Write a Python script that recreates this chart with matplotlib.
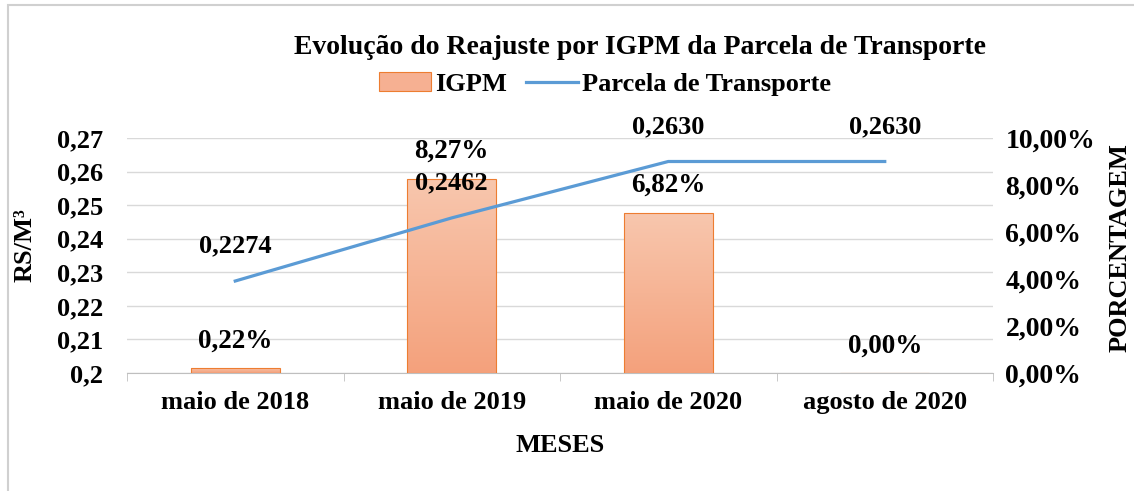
import numpy as np
import matplotlib
matplotlib.use('Agg')
import matplotlib.pyplot as plt
from matplotlib.ticker import FuncFormatter, FixedLocator
from matplotlib.colors import LinearSegmentedColormap
from matplotlib.patches import Rectangle
from matplotlib.lines import Line2D

# ========== Data ==========
meses = ['maio de 2018', 'maio de 2019', 'maio de 2020', 'agosto de 2020']
igpm = [0.0022, 0.0827, 0.0682, 0.0]          # IGPM (%)
parcela = [0.2274, 0.2462, 0.2630, 0.2630]    # Parcela de Transporte (R$/m3)

plt.rcParams['font.family'] = ['Liberation Serif', 'DejaVu Serif']
plt.rcParams['font.weight'] = 'bold'

BLUE = '#5B9BD5'
EDGE = '#ED7D31'
GRID = '#D9D9D9'
FS = 19

fig = plt.figure(figsize=(11.34, 4.91), dpi=100)
ax = fig.add_axes([127 / 1134, 1 - 373 / 491, (993 - 127) / 1134, (373 - 138) / 491])
ax2 = ax.twinx()

x = np.arange(len(meses))

# outer chart border
fig.patches.append(Rectangle((8 / 1134, -0.1), 1.2, 1 - 5 / 491 + 0.1, transform=fig.transFigure,
                             fill=False, edgecolor='#D0D0D0', lw=1.5, zorder=0))

# ---- primary axis (R$/m3) ----
ax.set_ylim(0.2, 0.27)
ax.set_xlim(-0.5, len(meses) - 0.5)
ax.yaxis.set_major_locator(FixedLocator(np.arange(0.20, 0.2701, 0.01)))
ax.yaxis.set_major_formatter(FuncFormatter(
    lambda v, p: f"{v:.2f}".rstrip('0').replace('.', ',')))
ax.grid(axis='y', color=GRID, lw=1)
ax.set_axisbelow(True)
for s in ['top', 'left', 'right']:
    ax.spines[s].set_visible(False)
ax.spines['bottom'].set_color('#BFBFBF')
ax.tick_params(axis='y', length=0, pad=17, labelsize=FS)
ax.set_xticks(x)
ax.set_xticklabels(meses, fontsize=FS)
ax.set_xticks(np.arange(-0.5, len(meses), 1), minor=True)
ax.tick_params(axis='x', which='major', length=0, pad=13)
ax.tick_params(axis='x', which='minor', length=6, color='#BFBFBF', direction='out')

# ---- secondary axis (%) ----
bars = ax2.bar(x, igpm, width=0.41, color='none', edgecolor=EDGE, lw=0.8, zorder=3)
cmap = LinearSegmentedColormap.from_list('peach', ['#F4A17C', '#F8C7AE'])
grad = np.linspace(0, 1, 256).reshape(-1, 1)
for b in bars:
    x0, y0, w, h = b.get_x(), b.get_y(), b.get_width(), b.get_height()
    if h <= 0:
        continue
    im = ax2.imshow(grad, extent=[x0, x0 + w, y0, y0 + h], origin='lower',
                    cmap=cmap, aspect='auto', zorder=2)
    im.set_clip_path(b)

ax2.plot(x, parcela, color=BLUE, lw=2.3, transform=ax.transData, zorder=4)
ax2.set_ylim(0, 0.10)
ax2.set_xlim(-0.5, len(meses) - 0.5)
ax2.yaxis.set_major_locator(FixedLocator(np.arange(0, 0.1001, 0.02)))
ax2.yaxis.set_major_formatter(FuncFormatter(
    lambda v, p: f"{v * 100:.2f}%".replace('.', ',')))
ax2.tick_params(axis='y', length=0, pad=9, labelsize=20)
for s in ['top', 'left', 'right', 'bottom']:
    ax2.spines[s].set_visible(False)

# data labels
for i, v in enumerate(parcela):
    ax2.annotate(f"{v:.4f}".replace('.', ','), xy=(i, v), xycoords=ax.transData,
                 xytext=(0, 25), textcoords='offset points', ha='center', va='center',
                 fontsize=FS, zorder=5)
for i, v in enumerate(igpm):
    ax2.annotate(f"{v * 100:.2f}%".replace('.', ','), xy=(i, v),
                 xytext=(0, 19.5), textcoords='offset points', ha='center', va='center',
                 fontsize=FS + 0.5, zorder=5)

# axis titles
fig.text(25 / 1134, 1 - 245 / 491, 'RS/M³', rotation=90, ha='center', va='center', fontsize=FS)
fig.text(1120 / 1134, 1 - 248 / 491, 'PORCENTAGEM', rotation=90, ha='center', va='center', fontsize=FS)
fig.text(560 / 1134, 1 - 445 / 491, 'MESES', ha='center', va='center', fontsize=FS)

# title + legend
fig.text(640 / 1134, 1 - 48 / 491, 'Evolução do Reajuste por IGPM da Parcela de Transporte',
         ha='center', va='center', fontsize=20)
handles = [Rectangle((0, 0), 1, 1, facecolor='#F6B092', edgecolor=EDGE, lw=0.8),
           Line2D([0], [0], color=BLUE, lw=2.3)]
fig.legend(handles, ['IGPM', 'Parcela de Transporte'], loc='center', ncol=2,
           bbox_to_anchor=(605 / 1134, 1 - 84 / 491), frameon=False, fontsize=FS,
           handlelength=2.0, handletextpad=0.15, columnspacing=0.7)

plt.savefig('out.png', dpi=100)
